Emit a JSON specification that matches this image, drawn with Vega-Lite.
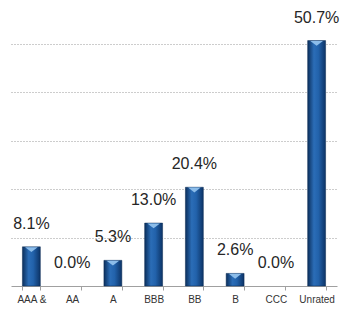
{
  "$schema": "https://vega.github.io/schema/vega-lite/v6.json",
  "width": 326,
  "height": 242,
  "autosize": {"type": "none"},
  "padding": {"left": 11, "top": 44, "right": 11, "bottom": 23},
  "config": {"view": {"stroke": null}, "font": "Liberation Sans"},
  "data": {
    "values": [
      {"rating": "AAA &", "pct": 8.1, "label": "8.1%"},
      {"rating": "AA", "pct": 0.0, "label": "0.0%"},
      {"rating": "A", "pct": 5.3, "label": "5.3%"},
      {"rating": "BBB", "pct": 13.0, "label": "13.0%"},
      {"rating": "BB", "pct": 20.4, "label": "20.4%"},
      {"rating": "B", "pct": 2.6, "label": "2.6%"},
      {"rating": "CCC", "pct": 0.0, "label": "0.0%"},
      {"rating": "Unrated", "pct": 50.7, "label": "50.7%"}
    ]
  },
  "encoding": {
    "x": {
      "field": "rating",
      "type": "nominal",
      "sort": ["AAA &", "AA", "A", "BBB", "BB", "B", "CCC", "Unrated"],
      "title": null,
      "scale": {"domain": ["AAA &", "AA", "A", "BBB", "BB", "B", "CCC", "Unrated"], "paddingInner": 0.56, "paddingOuter": 0.28},
      "axis": {
        "labelAngle": 0,
        "labelFontSize": 10,
        "labelColor": "#333333",
        "labelPadding": 4,
        "tickBand": "extent",
        "tickSize": 4,
        "tickColor": "#a0a0a0",
        "domainColor": "#a0a0a0",
        "grid": false
      }
    },
    "y": {
      "field": "pct",
      "type": "quantitative",
      "title": null,
      "scale": {"domain": [0, 50], "nice": false},
      "axis": {
        "values": [10, 20, 30, 40, 50],
        "labels": false,
        "ticks": false,
        "domain": false,
        "grid": true,
        "gridColor": "#9a9a9a",
        "gridDash": [1, 2],
        "gridWidth": 1
      }
    }
  },
  "layer": [
    {
      "transform": [{"filter": "datum.pct > 0"}],
      "mark": {
        "type": "bar",
        "clip": false,
        "stroke": "#0a2a52",
        "strokeWidth": 0.5,
        "color": {
          "gradient": "linear",
          "x1": 0, "x2": 1, "y1": 0, "y2": 0,
          "stops": [
            {"offset": 0, "color": "#0b2f5c"},
            {"offset": 0.35, "color": "#2b6db7"},
            {"offset": 0.6, "color": "#2262ab"},
            {"offset": 1, "color": "#0c3366"}
          ]
        }
      }
    },
    {
      "transform": [{"filter": "datum.pct > 0"}],
      "mark": {
        "type": "point",
        "filled": true,
        "clip": false,
        "shape": "M -0.9 0.05 L 0.9 0.05 L 0 0.75 Z",
        "size": 196,
        "color": "#8cbdea",
        "opacity": 1
      }
    },
    {
      "mark": {
        "type": "text",
        "baseline": "middle",
        "dy": -23,
        "fontSize": 16,
        "color": "#262626",
        "clip": false
      },
      "encoding": {"text": {"field": "label"}}
    }
  ]
}
